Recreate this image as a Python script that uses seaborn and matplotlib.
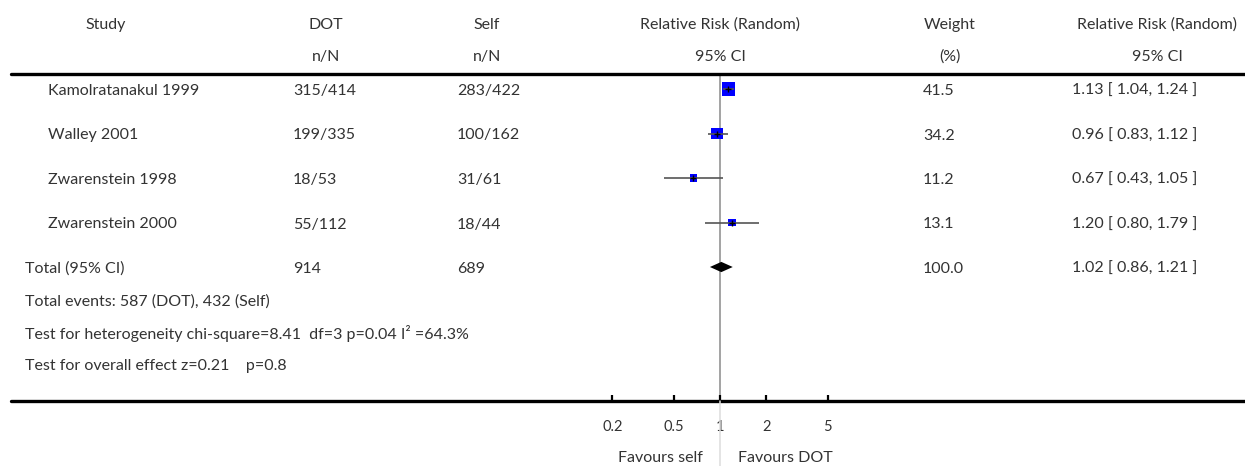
import numpy as np
import pandas as pd
import matplotlib
matplotlib.use("Agg")
import matplotlib.pyplot as plt
from matplotlib.lines import Line2D
import seaborn as sns

# ---------------- data ----------------
studies = ["Kamolratanakul 1999", "Walley 2001", "Zwarenstein 1998", "Zwarenstein 2000"]
dot_nN = ["315/414", "199/335", "18/53", "55/112"]
self_nN = ["283/422", "100/162", "31/61", "18/44"]
rr = [1.13, 0.96, 0.67, 1.20]
rr_lo = [1.04, 0.83, 0.43, 0.80]
rr_hi = [1.24, 1.12, 1.05, 1.79]
weights = [41.5, 34.2, 11.2, 13.1]

total_label = "Total (95% CI)"
total_dot = "914"
total_self = "689"
total_rr = 1.02
total_lo = 0.86
total_hi = 1.21
total_weight = 100.0

footer_lines = [
    "Total events: 587 (DOT), 432 (Self)",
    "Test for heterogeneity chi-square=8.41  df=3 p=0.04 I\u00b2 =64.3%",
    "Test for overall effect z=0.21    p=0.8",
]
xticks = [0.2, 0.5, 1, 2, 5]
xticklabels = ["0.2", "0.5", "1", "2", "5"]
favours_left = "Favours self"
favours_right = "Favours DOT"

# ---------------- style ----------------
sns.set_style("white")
plt.rcParams["font.family"] = ["Lato", "DejaVu Sans"]
TXT = "#333333"
FS = 11.5
FW = "normal"

W, H = 1245, 466
fig = plt.figure(figsize=(W / 100, H / 100), dpi=100)


def fx(px):
    return px / W


def fy(py):
    return 1 - py / H


def put(x, y, s, ha="left"):
    fig.text(fx(x), fy(y), s, ha=ha, va="center", fontsize=FS, color=TXT, fontweight=FW)


# forest axes (pixel box 590..850 x 74..401)
ax_l, ax_r, ax_t, ax_b = 590, 850, 74, 401
ax = fig.add_axes([fx(ax_l), fy(ax_b), fx(ax_r - ax_l), (ax_b - ax_t) / H])
ax.set_xscale("log")
ax.set_xlim(1 / 7, 7)
row_step = 44.5
ax.set_ylim((ax_b - 89) / row_step, (ax_t - 89) / row_step)
for s in ax.spines.values():
    s.set_visible(False)
ax.patch.set_alpha(0)

rows = np.arange(len(studies))
df = pd.DataFrame({"rr": rr, "row": rows, "weight": weights})

ax.axvline(1, color="#8a8a8a", lw=1.1, zorder=0)
ax.hlines(rows, rr_lo, rr_hi, color="#555555", lw=1.2, zorder=3)
sns.scatterplot(data=df, x="rr", y="row", size="weight", sizes=(26, 90),
                marker="s", color="#0000ff", linewidth=0, legend=False, ax=ax, zorder=2)
ax.plot(rr, rows, ls="none", marker="+", color="black", ms=5, mew=1, zorder=4)

trow = len(studies)
dh = 0.115
ax.fill([total_lo, total_rr, total_hi, total_rr],
        [trow, trow - dh, trow, trow + dh], color="black", lw=0, zorder=3)

ax.set_xticks(xticks)
ax.set_xticklabels(xticklabels)
ax.minorticks_off()
ax.tick_params(axis="x", direction="in", length=4.5, width=1.6, color="black",
               pad=14, labelsize=FS - 1, labelcolor=TXT, bottom=True)
for lab in ax.get_xticklabels():
    lab.set_fontweight(FW)
ax.set_yticks([])
ax.set_xlabel("")
ax.set_ylabel("")

# horizontal rules
fig.add_artist(Line2D([fx(11), fx(1245)], [fy(74), fy(74)], color="black", lw=2.4))
fig.add_artist(Line2D([fx(11), fx(1245)], [fy(401), fy(401)], color="black", lw=2.4))

# light continuation of the no-effect line below the axis
x1_disp = ax.transData.transform((1, 0))[0]
x1_fig = fig.transFigure.inverted().transform((x1_disp, 0))[0]
fig.add_artist(Line2D([x1_fig, x1_fig], [fy(401), fy(466)], color="#dddddd", lw=1.1))

# headers
put(106, 25, "Study", "center")
put(326, 25, "DOT", "center")
put(326, 57, "n/N", "center")
put(487, 25, "Self", "center")
put(487, 57, "n/N", "center")
put(720, 25, "Relative Risk (Random)", "center")
put(720, 57, "95% CI", "center")
put(950, 25, "Weight", "center")
put(950, 57, "(%)", "center")
put(1157, 25, "Relative Risk (Random)", "center")
put(1157, 57, "95% CI", "center")

# study rows
for i in range(len(studies)):
    y = 91 + i * row_step
    put(48, y, studies[i])
    put(293, y, dot_nN[i])
    put(457, y, self_nN[i])
    put(923, y, f"{weights[i]:.1f}")
    put(1197, y, f"{rr[i]:.2f} [ {rr_lo[i]:.2f}, {rr_hi[i]:.2f} ]", "right")

yt = 91 + trow * row_step
put(25, yt, total_label)
put(293, yt, total_dot)
put(457, yt, total_self)
put(923, yt, f"{total_weight:.1f}")
put(1197, yt, f"{total_rr:.2f} [ {total_lo:.2f}, {total_hi:.2f} ]", "right")

for k, line in enumerate(footer_lines):
    put(25, 302 + k * 32, line)

put(660, 458, favours_left, "center")
put(785, 458, favours_right, "center")

fig.savefig("out.png", dpi=100)
